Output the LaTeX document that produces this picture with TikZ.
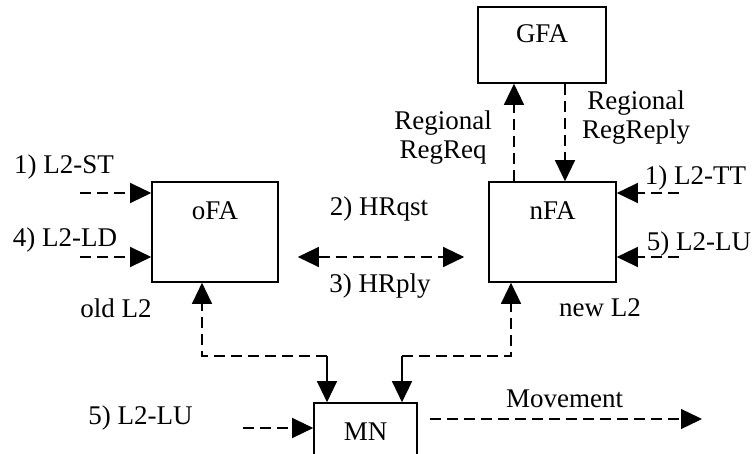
\documentclass[tikz,border=0pt]{standalone}
\usepackage{fontspec}
\setmainfont{Liberation Serif}
\usetikzlibrary{arrows.meta,calc}

\begin{document}
\begin{tikzpicture}[x=0.5pt,y=-0.5pt,font=\fontsize{13.5pt}{14.5pt}\selectfont,>={Triangle[length=10.5pt,width=10pt]}]
	\tikzstyle{fa} = [draw, line width=0.8pt, inner sep=0pt]
	\tikzstyle{sig} = [line width=0.6pt, dash pattern=on 5.5pt off 3pt]
	\tikzstyle{txt} = [inner sep=0pt, anchor=base]
	\tikzstyle{boxname} = [anchor=north, inner sep=0pt, yshift=-10pt]
	\useasboundingbox (0,0) rectangle (754,454);
	% agents
	\node[fa, minimum width=63pt, minimum height=50pt, label={[boxname]north:oFA}] (oFA) at (215,232) {};
	\node[fa, minimum width=63.5pt, minimum height=50pt, label={[boxname]north:nFA}] (nFA) at (552.5,232) {};
	\node[fa, minimum width=64pt, minimum height=38pt, label={[boxname, yshift=1pt]north:GFA}] (GFA) at (542,45) {};
	\node[fa, minimum width=51.5pt, minimum height=38pt, label={[boxname]north:MN}] (MN) at (365.5,441) {};
	% texts
	\node[txt] (st) at (64,174) {1) L2-ST};
	\node[txt] (ld) at (65,246) {4) L2-LD};
	\node[txt] (oldl) at (116,317) {old L2};
	\node[txt] (luL) at (140.5,424) {5) L2-LU};
	\node[txt] (hrq) at (379,215) {2) HRqst};
	\node[txt] (hrp) at (380,292) {3) HRply};
	\node[txt] (tt) at (695.5,185) {1) L2-TT};
	\node[txt] (luR) at (699,250) {5) L2-LU};
	\node[txt] (newl) at (600,316) {new L2};
	\node[txt] (mov) at (564.5,407) {Movement};
	\node[inner sep=0pt, align=center] (rreq) at (443,138) {Regional\\RegReq};
	\node[inner sep=0pt, align=center] (rrep) at (636,118) {Regional\\RegReply};
	% free ends and corners
	\coordinate (s1) at (80,193);
	\coordinate (s4) at (80,257);
	\coordinate (t1) at (679,193);
	\coordinate (t5) at (679,257);
	\coordinate (u5) at (243,428);
	\coordinate (mvend) at (702,419);
	\coordinate (cL) at (202,356);
	\coordinate (cLm) at (327,356);
	\coordinate (cR) at (511,356);
	\coordinate (cRm) at (402,356);
	\coordinate (rq) at ([xshift=-19.25pt]nFA.north);
	\coordinate (rp) at ([xshift=11.5pt]GFA.south);
	% signals
	\draw[sig,->] (s1) -- (s1 -| oFA.west);
	\draw[sig,->] (s4) -- (s4 -| oFA.west);
	\draw[sig,->] (t1) -- (t1 -| nFA.east);
	\draw[sig,->] (t5) -- (t5 -| nFA.east);
	\draw[sig,->] (u5) -- (u5 -| MN.west);
	\draw[sig,<->,shorten <=9.5pt,shorten >=12pt] ([yshift=-12.5pt]oFA.east) -- ([yshift=-12.5pt]nFA.west);
	\draw[sig,->] (rq) -- (rq |- GFA.south);
	\draw[sig,->] (rp) -- (rp |- nFA.north);
	\draw[sig,->] (cLm) -- (cL) -- (cL |- oFA.south);
	\draw[line width=0.6pt,->] (cLm) -- (cLm |- MN.north);
	\draw[sig,->] (cRm) -- (cR) -- (cR |- nFA.south);
	\draw[line width=0.6pt,->] (cRm) -- (cRm |- MN.north);
	\draw[sig,->] ([xshift=6pt,yshift=11pt]MN.east) -- (mvend);
\end{tikzpicture}
\end{document}
